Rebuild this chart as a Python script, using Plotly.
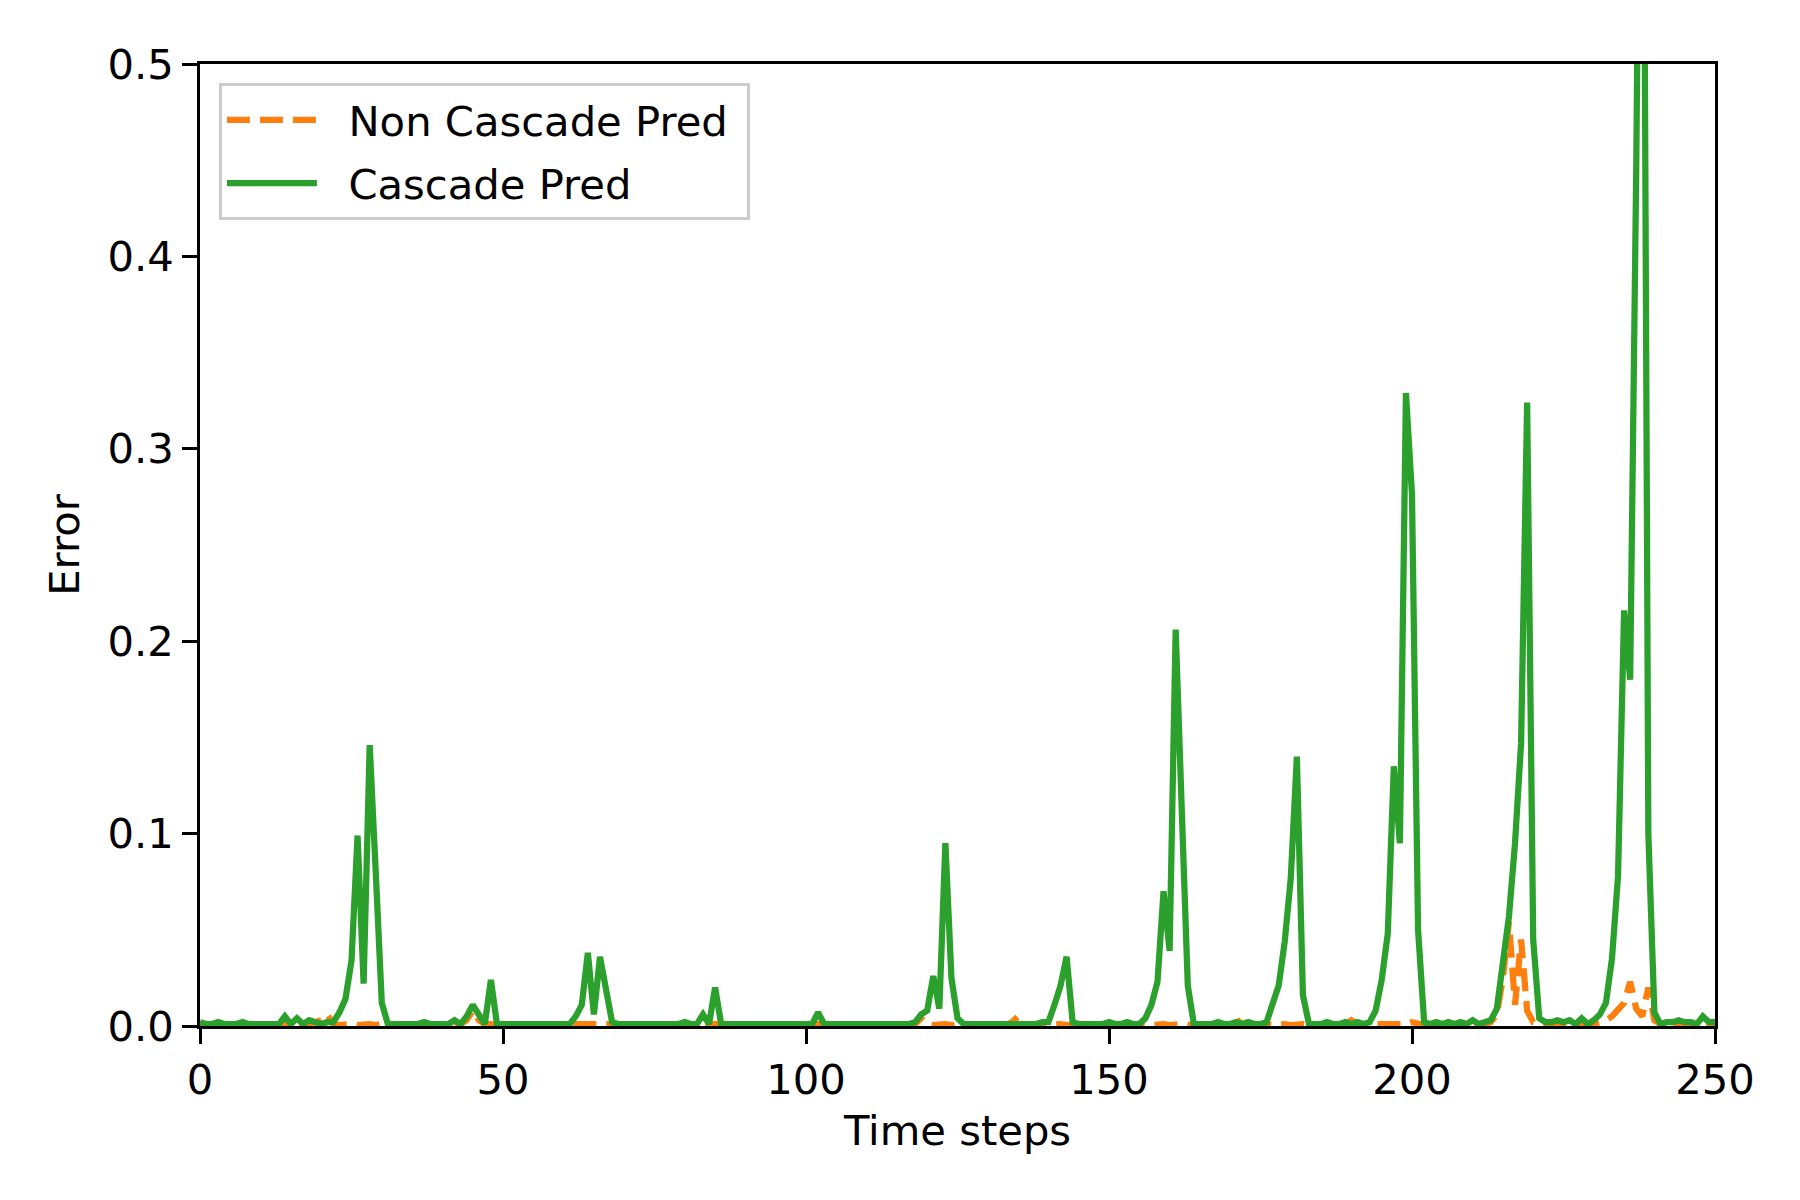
"""
Error per time step: non-cascade vs cascade prediction.
"""

import plotly.graph_objects as go

# time steps 0..250
TIME_STEPS = list(range(251))

# cascade prediction error (green, solid)
CASCADE_ERR = [
    0.002, 0.001, 0.001, 0.002, 0.001, 0.001, 0.001, 0.002, 0.001, 0.001,
    0.001, 0.001, 0.001, 0.001, 0.005, 0.001, 0.004, 0.001, 0.003, 0.002,
    0.001, 0.002, 0.002, 0.007, 0.014, 0.034, 0.099, 0.022, 0.146, 0.080,
    0.012, 0.001, 0.001, 0.001, 0.001, 0.001, 0.001, 0.002, 0.001, 0.001,
    0.001, 0.001, 0.003, 0.001, 0.005, 0.011, 0.006, 0.001, 0.024, 0.001,
    0.001, 0.001, 0.001, 0.001, 0.001, 0.001, 0.001, 0.001, 0.001, 0.001,
    0.001, 0.001, 0.005, 0.011, 0.038, 0.006, 0.036, 0.018, 0.002, 0.001,
    0.001, 0.001, 0.001, 0.001, 0.001, 0.001, 0.001, 0.001, 0.001, 0.001,
    0.002, 0.001, 0.001, 0.006, 0.001, 0.020, 0.001, 0.001, 0.001, 0.001,
    0.001, 0.001, 0.001, 0.001, 0.001, 0.001, 0.001, 0.001, 0.001, 0.001,
    0.001, 0.001, 0.007, 0.001, 0.001, 0.001, 0.001, 0.001, 0.001, 0.001,
    0.001, 0.001, 0.001, 0.001, 0.001, 0.001, 0.001, 0.001, 0.002, 0.006,
    0.008, 0.026, 0.009, 0.095, 0.025, 0.004, 0.001, 0.001, 0.001, 0.001,
    0.001, 0.001, 0.001, 0.001, 0.001, 0.001, 0.001, 0.001, 0.001, 0.002,
    0.002, 0.011, 0.021, 0.036, 0.002, 0.001, 0.001, 0.001, 0.001, 0.001,
    0.002, 0.001, 0.001, 0.002, 0.001, 0.001, 0.004, 0.011, 0.023, 0.070,
    0.039, 0.206, 0.113, 0.021, 0.001, 0.001, 0.001, 0.001, 0.002, 0.001,
    0.001, 0.002, 0.001, 0.002, 0.001, 0.001, 0.002, 0.011, 0.021, 0.044,
    0.077, 0.140, 0.016, 0.001, 0.001, 0.001, 0.002, 0.001, 0.001, 0.002,
    0.001, 0.002, 0.001, 0.002, 0.008, 0.024, 0.048, 0.135, 0.095, 0.329,
    0.276, 0.050, 0.002, 0.001, 0.002, 0.001, 0.002, 0.001, 0.002, 0.001,
    0.003, 0.001, 0.002, 0.003, 0.009, 0.035, 0.057, 0.095, 0.147, 0.324,
    0.045, 0.004, 0.002, 0.002, 0.003, 0.002, 0.003, 0.001, 0.004, 0.001,
    0.003, 0.006, 0.012, 0.035, 0.078, 0.216, 0.180, 0.445, 0.800, 0.100,
    0.007, 0.001, 0.002, 0.002, 0.003, 0.002, 0.002, 0.001, 0.005, 0.002,
    0.002,
]

# non-cascade prediction error (orange, dashed)
NON_CASCADE_ERR = [
    0.001, 0.001, 0.0005, 0.001, 0.0005, 0.001, 0.001, 0.0005, 0.001, 0.001,
    0.0005, 0.001, 0.001, 0.0005, 0.001, 0.001, 0.0005, 0.001, 0.001, 0.002,
    0.003, 0.006, 0.001, 0.0005, 0.001, 0.001, 0.0005, 0.001, 0.001, 0.0005,
    0.001, 0.0005, 0.001, 0.001, 0.0005, 0.001, 0.001, 0.0005, 0.001, 0.001,
    0.001, 0.001, 0.002, 0.001, 0.003, 0.008, 0.003, 0.001, 0.001, 0.0005,
    0.001, 0.0005, 0.001, 0.001, 0.0005, 0.001, 0.001, 0.0005, 0.001, 0.001,
    0.0005, 0.001, 0.001, 0.0005, 0.001, 0.001, 0.0005, 0.001, 0.001, 0.0005,
    0.001, 0.0005, 0.001, 0.001, 0.0005, 0.001, 0.001, 0.0005, 0.001, 0.001,
    0.0005, 0.001, 0.001, 0.0005, 0.001, 0.001, 0.0005, 0.001, 0.001, 0.0005,
    0.001, 0.0005, 0.001, 0.001, 0.0005, 0.001, 0.001, 0.0005, 0.001, 0.001,
    0.0005, 0.001, 0.001, 0.0005, 0.001, 0.001, 0.0005, 0.001, 0.001, 0.0005,
    0.001, 0.0005, 0.001, 0.001, 0.0005, 0.001, 0.001, 0.0005, 0.001, 0.004,
    0.001, 0.0005, 0.001, 0.001, 0.0005, 0.001, 0.001, 0.0005, 0.001, 0.001,
    0.0005, 0.001, 0.001, 0.0005, 0.002, 0.005, 0.001, 0.0005, 0.001, 0.001,
    0.0005, 0.001, 0.001, 0.0005, 0.001, 0.001, 0.0005, 0.001, 0.001, 0.0005,
    0.001, 0.0005, 0.001, 0.001, 0.0005, 0.001, 0.001, 0.0005, 0.001, 0.001,
    0.0005, 0.001, 0.001, 0.0005, 0.001, 0.001, 0.0005, 0.001, 0.001, 0.0005,
    0.001, 0.001, 0.004, 0.001, 0.0005, 0.001, 0.001, 0.0005, 0.001, 0.001,
    0.0005, 0.001, 0.001, 0.0005, 0.001, 0.001, 0.0005, 0.001, 0.001, 0.001,
    0.003, 0.001, 0.0005, 0.001, 0.001, 0.0005, 0.001, 0.001, 0.0005, 0.001,
    0.002, 0.001, 0.0005, 0.001, 0.001, 0.0005, 0.001, 0.001, 0.0005, 0.002,
    0.001, 0.0005, 0.001, 0.002, 0.006, 0.025, 0.054, 0.011, 0.045, 0.008,
    0.002, 0.001, 0.0005, 0.001, 0.001, 0.0005, 0.001, 0.001, 0.0005, 0.001,
    0.001, 0.002, 0.003, 0.005, 0.008, 0.012, 0.023, 0.009, 0.005, 0.020,
    0.003, 0.001, 0.0005, 0.001, 0.001, 0.0005, 0.001, 0.001, 0.0005, 0.001,
    0.001,
]

X_TICKS = [0, 50, 100, 150, 200, 250]
Y_TICKS = [0.0, 0.1, 0.2, 0.3, 0.4, 0.5]

FONT = "DejaVu Sans"
FS = 41.7          # 10pt @ 300 dpi
LW = 6.25          # 1.5pt line
AX_LW = 3.3        # 0.8pt spines / ticks
PAD = "\u00a0\u00a0"  # gap between legend handle and label

fig = go.Figure()
fig.add_trace(
    go.Scatter(
        x=TIME_STEPS,
        y=NON_CASCADE_ERR,
        mode="lines",
        name=PAD + "Non Cascade Pred\u00a0",
        legendgroup="a",
        line=dict(color="#ff7f0e", width=LW, dash="23px,10px"),
    )
)
fig.add_trace(
    go.Scatter(
        x=TIME_STEPS,
        y=CASCADE_ERR,
        mode="lines",
        name=PAD + "Cascade Pred",
        legendgroup="b",
        line=dict(color="#2ca02c", width=LW),
    )
)

axis_style = dict(
    showline=True,
    linecolor="black",
    linewidth=AX_LW,
    mirror=True,
    ticks="outside",
    ticklen=14.6,
    tickwidth=AX_LW,
    tickcolor="black",
    showgrid=False,
    zeroline=False,
    tickfont=dict(family=FONT, size=FS, color="black"),
)

fig.update_xaxes(
    range=[0, 250],
    tickvals=X_TICKS,
    title=dict(text="Time steps", font=dict(family=FONT, size=FS), standoff=14),
    **axis_style,
)
fig.update_yaxes(
    range=[0, 0.5],
    tickvals=Y_TICKS,
    tickformat=".1f",
    title=dict(text="Error", font=dict(family=FONT, size=FS), standoff=16),
    **axis_style,
)

fig.update_layout(
    width=1800,
    height=1200,
    margin=dict(l=192, r=93, t=56, b=182),
    plot_bgcolor="white",
    paper_bgcolor="white",
    font=dict(family=FONT, size=FS, color="black"),
    legend=dict(
        x=0.0125,
        y=0.98,
        xanchor="left",
        yanchor="top",
        bgcolor="rgba(255,255,255,0.8)",
        bordercolor="#cccccc",
        borderwidth=3,
        itemwidth=90,
        traceorder="grouped",
        tracegroupgap=6,
        font=dict(family=FONT, size=FS, color="black"),
    ),
)

fig.write_html("out.html")
